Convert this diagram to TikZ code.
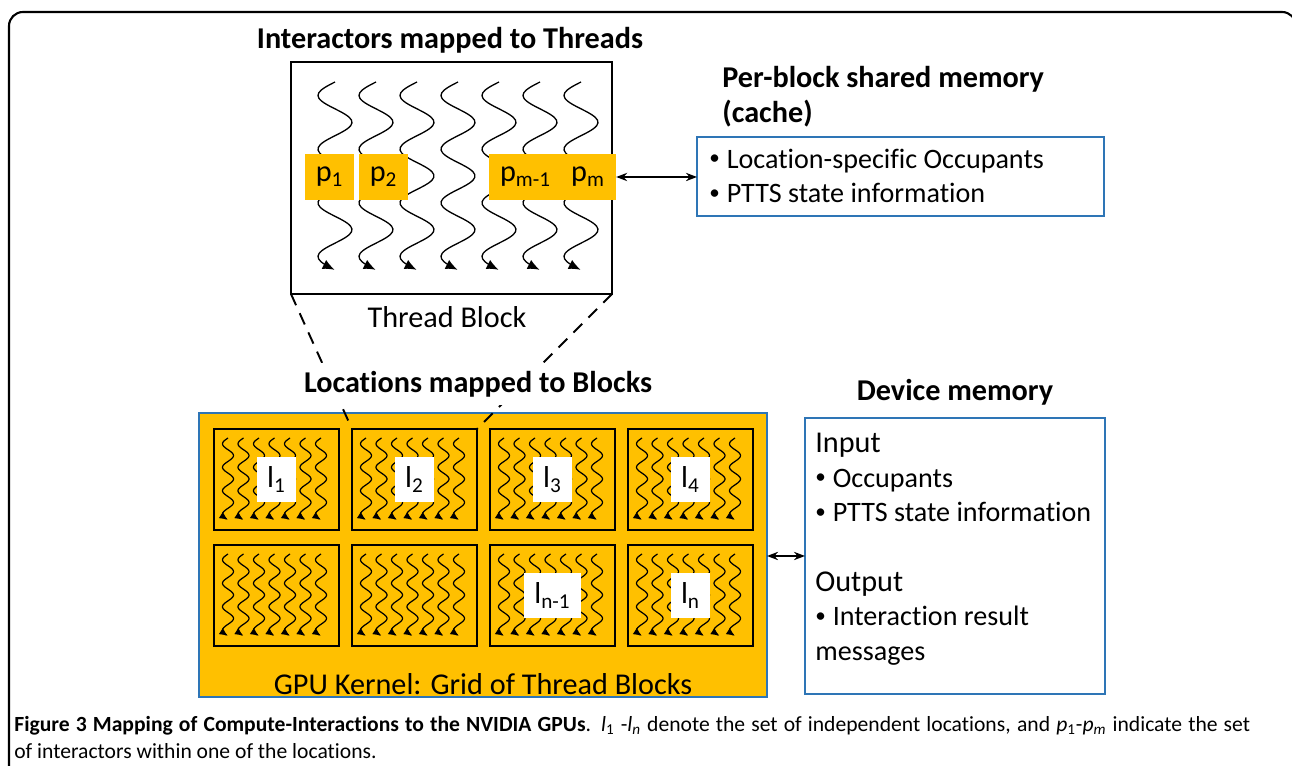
\documentclass[tikz,border=0pt]{standalone}
\usepackage{fontspec}
\setmainfont{Carlito}[Ligatures=NoCommon]
\usetikzlibrary{arrows.meta,fit,positioning}
\definecolor{gpuorange}{RGB}{255,192,0}
\definecolor{memblue}{RGB}{46,117,182}
\tikzset{
	every node/.style={font=\fontsize{17.2}{19.7}\selectfont},
	heading/.style={font=\fontsize{17.2}{20}\selectfont\bfseries, inner sep=0pt},
	itemtext/.style={font=\fontsize{16}{19.7}\selectfont, align=left, inner sep=0pt},
	blockframe/.style={draw, line width=1.2pt, inner sep=0pt, outer sep=0pt},
	membox/.style={draw=memblue, line width=1.1pt, inner sep=0pt, outer sep=0pt},
	pbox/.style={fill=gpuorange, inner xsep=0.22cm, inner ysep=0pt, minimum height=0.92cm},
	lbox/.style={fill=white, inner xsep=0.21cm, inner ysep=0pt, minimum height=0.92cm},
	thread/.style={line width=0.75pt, -{Latex[length=0.24cm,width=0.2cm]}},
	minithread/.style={line width=0.7pt, -{Latex[length=0.17cm,width=0.15cm]}},
	link/.style={line width=1.1pt, {Stealth[length=0.22cm]}-{Stealth[length=0.22cm]}},
	zoomline/.style={line width=1.1pt, dash pattern=on 7pt off 5pt}
}
% style, x centre, y top, height, amplitude
\newcommand{\wavethread}[5]{%
	\draw[#1] plot[domain=0:1, samples=70, smooth] ({#2-#5*sin(1260*\x)}, {#3+#4*\x});
}
\newcommand{\bul}{\makebox[0.62em][l]{\raisebox{0.12em}{\scalebox{0.75}{\textbullet}}}}
\begin{document}
\begin{tikzpicture}[x=0.02cm, y=-0.02cm]
\useasboundingbox (0,0) rectangle (1292,766);
\draw[line width=1.2pt, rounded corners=0.28cm] (9,790) -- (9,12) -- (1296,12) -- (1296,790);

% thread block
\node[heading] (tbtitle) at (450,40) {Interactors mapped to Threads};
\node[blockframe, line width=1.4pt, fit={(291,62) (612,294)}] (tb) {};
\foreach \k in {0,...,6} {\wavethread{thread}{335+41*\k}{82}{188}{17}}
\node[pbox] (p1) at (329.5,177) {p\textsubscript{1}};
\node[pbox] (p2) at (383.5,177) {p\textsubscript{2}};
\node[pbox] (pm1) at (525.5,177) {p\textsubscript{m-1}};
\node[pbox] (pm) at (588,177) {p\textsubscript{m}};
\node (tblabel) at (447,317) {Thread Block};

% shared memory
\node[heading, align=left, anchor=west] (cachetitle) at (722,97) {Per-block shared memory\\(cache)};
\node[membox, fit={(697,137) (1104,216)}] (cache) {};
\node[itemtext, anchor=west] (cachetext) at (709,176)
	{\bul Location-specific Occupants\\\bul PTTS state information};
\draw[link] (pm.east) -- (pm.east -| cache.west);

% kernel
\node[membox, fill=gpuorange, fit={(199,413) (767,697)}] (kernel) {};
\foreach \r in {0,1}
	\foreach \c in {0,...,3} {
		\node[blockframe, fit={({214+138*\c},{429+116*\r}) ({339+138*\c},{530+116*\r})}] (b\r\c) {};
		\foreach \k in {0,...,6} {\wavethread{minithread}{228+138*\c+15.5*\k}{438+116*\r}{82}{5.5}}
	}
\node[lbox] (l1) at (b00) {l\textsubscript{1}};
\node[lbox] (l2) at (b01) {l\textsubscript{2}};
\node[lbox] (l3) at (b02) {l\textsubscript{3}};
\node[lbox] (l4) at (b03) {l\textsubscript{4}};
\node[lbox] (ln1) at (b12) {l\textsubscript{n-1}};
\node[lbox] (ln) at (b13) {l\textsubscript{n}};
\node (kernellabel) at (483,684) {GPU Kernel: Grid of Thread Blocks};

\draw[zoomline] (tb.south west) -- (b01.north west);
\draw[zoomline] (tb.south east) -- (b01.north east);
\node[heading, fill=white, inner sep=0.16cm] (loctitle) at (478,384) {Locations mapped to Blocks};

% device memory
\node[heading] (devtitle) at (955,392) {Device memory};
\node[membox, fit={(805,418) (1105,694)}] (devmem) {};
\node[itemtext, anchor=north west] (devtext) at (815,433)
	{{\fontsize{17.2}{19.7}\selectfont Input}\\\bul Occupants\\\bul PTTS state information\\[19.7pt]{\fontsize{17.2}{19.7}\selectfont Output}\\\bul Interaction result\\messages};
\draw[link] (kernel.east |- devmem.west) -- (devmem.west);

\node[anchor=north west, inner sep=0pt, text width=24.72cm, align=justify, font=\fontsize{12.3}{15.3}\selectfont] (caption) at (14,716)
	{\textbf{Figure 3 Mapping of Compute-Interactions to the NVIDIA GPUs}. \textit{l}\textsubscript{1} -\textit{l}\textsubscript{\textit{n}} denote the set of independent locations, and \textit{p}\textsubscript{1}-\textit{p}\textsubscript{\textit{m}} indicate the set\linebreak of interactors within one of the locations.};
\end{tikzpicture}
\end{document}
